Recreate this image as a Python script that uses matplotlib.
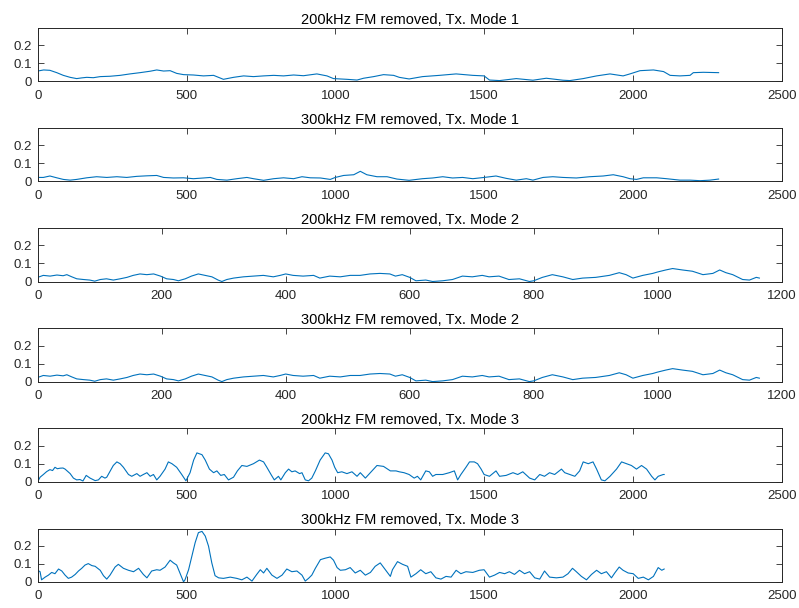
import matplotlib
matplotlib.use("Agg")
import matplotlib.pyplot as plt

plt.rcParams['font.family'] = ['Liberation Sans', 'DejaVu Sans']

titles = [
    "200kHz FM removed, Tx. Mode 1",
    "300kHz FM removed, Tx. Mode 1",
    "200kHz FM removed, Tx. Mode 2",
    "300kHz FM removed, Tx. Mode 2",
    "200kHz FM removed, Tx. Mode 3",
    "300kHz FM removed, Tx. Mode 3",
]

# ---- 200kHz, Mode 1 ----
m1_200_x = [0, 20, 41, 64, 86, 109, 131, 148, 165, 187, 210, 243, 277, 310, 344, 378, 400, 423, 445,
            467, 490, 523, 557, 591, 624, 658, 692, 725, 759, 793, 826, 860, 893, 938, 972, 994, 1039,
            1073, 1095, 1129, 1162, 1196, 1215, 1248, 1293, 1350, 1406, 1462, 1500, 1518, 1552, 1608,
            1664, 1709, 1765, 1788, 1833, 1878, 1923, 1967, 1990, 2024, 2069, 2103, 2125, 2158, 2192,
            2203, 2237, 2288]
m1_200_y = [0.057, 0.063, 0.061, 0.048, 0.033, 0.022, 0.015, 0.019, 0.022, 0.020, 0.026, 0.028, 0.033,
            0.041, 0.048, 0.056, 0.063, 0.057, 0.059, 0.044, 0.037, 0.035, 0.030, 0.033, 0.011, 0.022,
            0.030, 0.026, 0.030, 0.033, 0.030, 0.035, 0.031, 0.041, 0.030, 0.015, 0.011, 0.007, 0.017,
            0.026, 0.037, 0.033, 0.022, 0.013, 0.026, 0.033, 0.041, 0.033, 0.030, 0.007, 0.004, 0.015,
            0.006, 0.017, 0.006, 0.004, 0.015, 0.030, 0.041, 0.030, 0.041, 0.059, 0.063, 0.054, 0.033,
            0.030, 0.033, 0.048, 0.050, 0.048]

# ---- 300kHz, Mode 1 ----
m1_300_x = [0, 19, 41, 64, 86, 109, 131, 165, 198, 232, 266, 299, 333, 367, 400, 423, 456, 490, 523,
            557, 580, 602, 636, 669, 703, 725, 759, 793, 826, 860, 888, 916, 950, 983, 1000, 1028, 1062,
            1084, 1106, 1140, 1174, 1207, 1248, 1293, 1327, 1361, 1394, 1428, 1462, 1500, 1540, 1574,
            1608, 1642, 1664, 1698, 1731, 1765, 1810, 1855, 1900, 1934, 1967, 1990, 2012, 2035, 2080,
            2113, 2158, 2192, 2226, 2259, 2288]
m1_300_y = [0.022, 0.022, 0.030, 0.020, 0.011, 0.007, 0.011, 0.020, 0.026, 0.022, 0.026, 0.022, 0.028,
            0.031, 0.033, 0.022, 0.019, 0.020, 0.015, 0.019, 0.022, 0.011, 0.007, 0.015, 0.022, 0.015,
            0.006, 0.015, 0.020, 0.015, 0.026, 0.020, 0.019, 0.011, 0.022, 0.033, 0.037, 0.056, 0.037,
            0.026, 0.026, 0.013, 0.006, 0.015, 0.019, 0.026, 0.019, 0.022, 0.015, 0.022, 0.030, 0.017,
            0.007, 0.015, 0.007, 0.022, 0.026, 0.022, 0.019, 0.026, 0.030, 0.037, 0.026, 0.015, 0.011,
            0.020, 0.020, 0.015, 0.007, 0.007, 0.004, 0.007, 0.013]

# ---- 200kHz, Mode 2 ----
m2_200_x = [0, 9, 20, 31, 41, 47, 55, 63, 74, 84, 92, 101, 111, 122, 133, 144, 154, 165, 176, 187, 198,
            208, 219, 227, 238, 248, 259, 270, 281, 291, 297, 305, 316, 332, 348, 364, 380, 391, 400,
            412, 428, 445, 455, 471, 488, 504, 520, 536, 552, 568, 577, 588, 600, 610, 626, 637, 653,
            669, 685, 701, 717, 728, 744, 760, 777, 793, 800, 814, 830, 847, 863, 879, 900, 922, 938,
            949, 960, 976, 992, 1000, 1013, 1024, 1040, 1056, 1073, 1089, 1100, 1110, 1121, 1137, 1148,
            1159, 1164]
m2_200_y = [0.023, 0.034, 0.030, 0.036, 0.032, 0.038, 0.026, 0.015, 0.011, 0.008, 0.002, 0.011, 0.015,
            0.008, 0.015, 0.023, 0.034, 0.042, 0.038, 0.042, 0.030, 0.015, 0.011, 0.004, 0.015, 0.030,
            0.042, 0.034, 0.026, 0.008, 0.000, 0.011, 0.019, 0.026, 0.030, 0.034, 0.026, 0.034, 0.042,
            0.034, 0.030, 0.034, 0.019, 0.030, 0.026, 0.034, 0.034, 0.042, 0.045, 0.042, 0.030, 0.038,
            0.023, 0.004, 0.008, 0.000, 0.004, 0.011, 0.030, 0.026, 0.034, 0.026, 0.030, 0.011, 0.015,
            0.000, 0.004, 0.023, 0.038, 0.026, 0.011, 0.019, 0.023, 0.034, 0.049, 0.038, 0.019, 0.034,
            0.045, 0.053, 0.064, 0.072, 0.064, 0.057, 0.038, 0.045, 0.064, 0.049, 0.038, 0.011, 0.008,
            0.023, 0.019]

# ---- 300kHz, Mode 2 ----
m2_300_x = [0, 9, 20, 31, 41, 47, 55, 63, 74, 84, 92, 101, 111, 122, 133, 144, 154, 165, 176, 187, 198,
            208, 219, 227, 238, 248, 259, 270, 281, 291, 297, 305, 316, 332, 348, 364, 380, 391, 400,
            412, 428, 445, 455, 471, 488, 504, 520, 536, 552, 568, 577, 588, 600, 610, 626, 637, 653,
            669, 685, 701, 717, 728, 744, 760, 777, 793, 800, 814, 830, 847, 863, 879, 900, 922, 938,
            949, 960, 976, 992, 1000, 1013, 1024, 1040, 1056, 1073, 1089, 1100, 1110, 1121, 1137, 1148,
            1159, 1164]
m2_300_y = [0.023, 0.034, 0.030, 0.036, 0.032, 0.038, 0.026, 0.015, 0.011, 0.008, 0.002, 0.011, 0.015,
            0.008, 0.015, 0.023, 0.034, 0.042, 0.038, 0.042, 0.030, 0.015, 0.011, 0.004, 0.015, 0.030,
            0.042, 0.034, 0.026, 0.008, 0.000, 0.011, 0.019, 0.026, 0.030, 0.034, 0.026, 0.034, 0.042,
            0.034, 0.030, 0.034, 0.019, 0.030, 0.026, 0.034, 0.034, 0.042, 0.045, 0.042, 0.030, 0.038,
            0.023, 0.004, 0.008, 0.000, 0.004, 0.011, 0.030, 0.026, 0.034, 0.026, 0.030, 0.011, 0.015,
            0.000, 0.004, 0.023, 0.038, 0.026, 0.011, 0.019, 0.023, 0.034, 0.049, 0.038, 0.019, 0.034,
            0.045, 0.053, 0.064, 0.072, 0.064, 0.057, 0.038, 0.045, 0.064, 0.049, 0.038, 0.011, 0.008,
            0.023, 0.019]

# ---- 200kHz, Mode 3 ----
m3_200_x = [0, 8, 19, 30, 41, 50, 58, 66, 75, 85, 92, 109, 120, 131, 142, 152, 163, 176, 193, 204, 215,
            226, 232, 254, 266, 277, 288, 305, 316, 333, 344, 355, 367, 378, 389, 400, 411, 428, 439,
            451, 467, 484, 498, 512, 524, 535, 552, 563, 577, 591, 602, 615, 627, 641, 658, 671, 686,
            703, 725, 745, 759, 770, 784, 795, 809, 817, 832, 843, 854, 865, 880, 888, 899, 910, 921,
            933, 949, 966, 977, 989, 998, 1008, 1022, 1039, 1056, 1073, 1084, 1101, 1123, 1140, 1162,
            1185, 1204, 1215, 1231, 1248, 1265, 1276, 1287, 1304, 1316, 1327, 1338, 1361, 1383, 1400,
            1411, 1422, 1439, 1451, 1467, 1478, 1490, 1500, 1518, 1540, 1552, 1574, 1597, 1613, 1630,
            1653, 1670, 1687, 1703, 1720, 1737, 1760, 1771, 1788, 1805, 1821, 1833, 1850, 1866, 1878,
            1894, 1906, 1923, 1945, 1962, 1979, 1995, 2012, 2029, 2046, 2063, 2074, 2085, 2102, 2105]
m3_200_y = [0.000, 0.025, 0.040, 0.056, 0.067, 0.062, 0.080, 0.072, 0.075, 0.076, 0.070, 0.045, 0.020,
            0.010, 0.012, 0.004, 0.035, 0.020, 0.006, 0.010, 0.030, 0.020, 0.025, 0.090, 0.110, 0.100,
            0.080, 0.040, 0.030, 0.045, 0.030, 0.040, 0.050, 0.030, 0.040, 0.010, 0.030, 0.070, 0.110,
            0.100, 0.080, 0.040, 0.005, 0.050, 0.120, 0.160, 0.150, 0.120, 0.070, 0.050, 0.060, 0.035,
            0.040, 0.010, 0.025, 0.060, 0.090, 0.085, 0.100, 0.120, 0.110, 0.080, 0.040, 0.010, 0.030,
            0.010, 0.050, 0.070, 0.055, 0.060, 0.045, 0.050, 0.010, 0.005, 0.020, 0.060, 0.120, 0.160,
            0.155, 0.120, 0.080, 0.050, 0.055, 0.045, 0.055, 0.030, 0.050, 0.020, 0.060, 0.090, 0.085,
            0.060, 0.060, 0.055, 0.050, 0.040, 0.020, 0.030, 0.010, 0.060, 0.055, 0.030, 0.040, 0.040,
            0.050, 0.060, 0.010, 0.040, 0.080, 0.110, 0.110, 0.100, 0.070, 0.040, 0.030, 0.060, 0.030,
            0.035, 0.050, 0.040, 0.055, 0.020, 0.010, 0.040, 0.030, 0.050, 0.040, 0.070, 0.050, 0.040,
            0.030, 0.060, 0.110, 0.100, 0.110, 0.070, 0.010, 0.005, 0.030, 0.070, 0.110, 0.100, 0.090,
            0.070, 0.090, 0.070, 0.030, 0.010, 0.030, 0.040, 0.040]

# ---- 300kHz, Mode 3 ----
m3_300_x = [0, 8, 13, 25, 36, 47, 58, 70, 81, 92, 103, 114, 126, 137, 148, 159, 170, 182, 193, 210, 221,
            232, 243, 260, 271, 288, 305, 322, 339, 355, 367, 383, 400, 411, 428, 445, 456, 467, 478,
            490, 495, 507, 518, 529, 540, 552, 563, 574, 585, 596, 608, 624, 647, 669, 686, 703, 720,
            736, 748, 759, 770, 787, 804, 821, 837, 854, 871, 888, 899, 910, 921, 933, 950, 966, 983,
            994, 1006, 1017, 1034, 1050, 1067, 1084, 1101, 1118, 1134, 1151, 1168, 1185, 1192, 1209,
            1226, 1243, 1254, 1271, 1287, 1304, 1321, 1338, 1355, 1372, 1389, 1406, 1422, 1439, 1462,
            1484, 1500, 1518, 1535, 1552, 1569, 1585, 1602, 1619, 1636, 1653, 1670, 1687, 1703, 1720,
            1743, 1765, 1782, 1797, 1810, 1827, 1844, 1861, 1878, 1894, 1911, 1928, 1939, 1954, 1967,
            1984, 2001, 2018, 2035, 2052, 2069, 2085, 2097, 2105]
m3_300_y = [0.064, 0.056, 0.011, 0.026, 0.037, 0.052, 0.045, 0.071, 0.060, 0.037, 0.019, 0.026, 0.041,
            0.060, 0.075, 0.093, 0.101, 0.090, 0.086, 0.064, 0.034, 0.015, 0.037, 0.082, 0.097, 0.075,
            0.064, 0.056, 0.075, 0.041, 0.022, 0.060, 0.067, 0.064, 0.082, 0.120, 0.105, 0.093, 0.049,
            0.000, 0.011, 0.067, 0.142, 0.217, 0.273, 0.280, 0.254, 0.198, 0.105, 0.034, 0.022, 0.019,
            0.026, 0.019, 0.011, 0.026, 0.004, 0.041, 0.067, 0.049, 0.075, 0.037, 0.019, 0.037, 0.071,
            0.056, 0.060, 0.037, 0.004, 0.019, 0.037, 0.075, 0.123, 0.131, 0.138, 0.120, 0.079, 0.064,
            0.067, 0.079, 0.049, 0.064, 0.037, 0.052, 0.086, 0.105, 0.067, 0.030, 0.067, 0.112, 0.097,
            0.086, 0.026, 0.045, 0.067, 0.045, 0.056, 0.022, 0.015, 0.030, 0.026, 0.064, 0.045, 0.056,
            0.052, 0.064, 0.067, 0.026, 0.037, 0.052, 0.045, 0.056, 0.041, 0.064, 0.045, 0.056, 0.022,
            0.015, 0.060, 0.026, 0.022, 0.026, 0.045, 0.075, 0.056, 0.030, 0.011, 0.041, 0.064, 0.045,
            0.056, 0.022, 0.049, 0.082, 0.064, 0.049, 0.045, 0.019, 0.026, 0.011, 0.030, 0.079, 0.064,
            0.071]

series = [
    (m1_200_x, m1_200_y, [0, 500, 1000, 1500, 2000, 2500]),
    (m1_300_x, m1_300_y, [0, 500, 1000, 1500, 2000, 2500]),
    (m2_200_x, m2_200_y, [0, 200, 400, 600, 800, 1000, 1200]),
    (m2_300_x, m2_300_y, [0, 200, 400, 600, 800, 1000, 1200]),
    (m3_200_x, m3_200_y, [0, 500, 1000, 1500, 2000, 2500]),
    (m3_300_x, m3_300_y, [0, 500, 1000, 1500, 2000, 2500]),
]
y_ticks = [0, 0.1, 0.2]
y_tick_labels = ["0", "0.1", "0.2"]

W, H = 799, 608
fig = plt.figure(figsize=(W / 100, H / 100), dpi=100)
axc = '#262626'
left_px, right_px = 37.7, 781.7
for i, ((xs, ys, xt), title) in enumerate(zip(series, titles)):
    bot_px = 81.3 + 100.1 * i
    ax = fig.add_axes([left_px / W, 1 - bot_px / H, (right_px - left_px) / W, 53.3 / H])
    ax.plot(xs, ys, color='#0072BD', lw=0.8)
    ax.set_xlim(xt[0], xt[-1])
    ax.set_ylim(0, 0.296)
    ax.set_xticks(xt)
    ax.set_xticklabels([str(v) for v in xt])
    ax.set_yticks(y_ticks)
    ax.set_yticklabels(y_tick_labels)
    ax.tick_params(direction='in', top=True, right=True, length=4.5, width=0.6,
                   colors=axc, labelsize=9.5)
    ax.tick_params(axis='x', pad=6)
    ax.tick_params(axis='y', pad=4)
    for s in ax.spines.values():
        s.set_color(axc)
        s.set_linewidth(0.7)
    ax.set_title(title, fontsize=10.5, color='black', pad=3)

fig.savefig('out.png', dpi=100)
